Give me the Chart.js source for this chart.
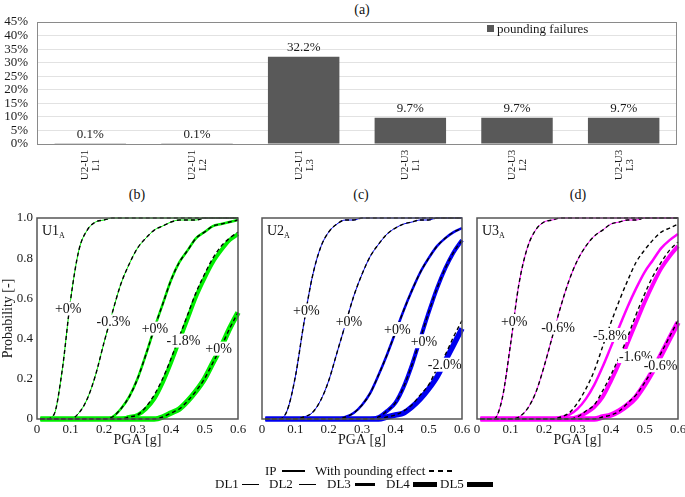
<!DOCTYPE html>
<html><head><meta charset="utf-8">
<script src="https://cdn.jsdelivr.net/npm/chart.js@4/dist/chart.umd.min.js"></script>
<style>
html,body{margin:0;padding:0;background:#fff;width:685px;height:497px;overflow:hidden;font-family:'Liberation Serif','Times New Roman',serif;color:#111}
canvas{position:absolute}
.t{position:absolute;font-size:14px;line-height:16px;transform:translateX(-50%);white-space:nowrap}
.lt{position:absolute;font-size:13px;line-height:16px;white-space:nowrap}
.ln{position:absolute;background:#000}
</style></head><body>
<div class="t" style="left:362px;top:2px">(a)</div>
<div class="t" style="left:137px;top:187px">(b)</div>
<div class="t" style="left:361px;top:187px">(c)</div>
<div class="t" style="left:578px;top:187px">(d)</div>

<canvas id="ca" width="685" height="190" style="left:0;top:0"></canvas>
<canvas id="cb" width="250" height="265" style="left:0;top:185px"></canvas>
<canvas id="cc" width="230" height="265" style="left:245px;top:185px"></canvas>
<canvas id="cd" width="217" height="265" style="left:468px;top:185px"></canvas>

<div class="lt" style="left:265px;top:463px">IP</div>
<div class="ln" style="left:282px;top:470px;width:23px;height:1.5px"></div>
<div class="lt" style="left:315px;top:463px">With pounding effect</div>
<div class="ln" style="left:429px;top:470px;width:5px;height:1.5px"></div>
<div class="ln" style="left:438px;top:470px;width:5px;height:1.5px"></div>
<div class="ln" style="left:447px;top:470px;width:5px;height:1.5px"></div>

<div class="lt" style="left:215px;top:476px">DL1</div>
<div class="ln" style="left:242px;top:484px;width:17px;height:1px"></div>
<div class="lt" style="left:269px;top:476px">DL2</div>
<div class="ln" style="left:299px;top:484px;width:17px;height:1px"></div>
<div class="lt" style="left:327px;top:476px">DL3</div>
<div class="ln" style="left:355px;top:483px;width:20px;height:3px"></div>
<div class="lt" style="left:386px;top:476px">DL4</div>
<div class="ln" style="left:413px;top:482px;width:24px;height:5px"></div>
<div class="lt" style="left:440px;top:476px">DL5</div>
<div class="ln" style="left:467px;top:482px;width:26px;height:5px"></div>

<script>
Chart.defaults.font.family = "'Liberation Serif', 'Times New Roman', serif";
Chart.defaults.color = '#1a1a1a';
Chart.defaults.animation = false;

// ---------- (a) pounding failures ----------
const categories = [['U2-U1','L1'],['U2-U1','L2'],['U2-U1','L3'],['U2-U3','L1'],['U2-U3','L2'],['U2-U3','L3']];
const poundingFailures = [0.1, 0.1, 32.2, 9.7, 9.7, 9.7];

// ---------- fragility curves: PGA grid ----------
const pga = [0.01,0.025,0.05,0.075,0.1,0.125,0.15,0.175,0.2,0.225,0.25,0.275,0.3,0.325,0.35,0.375,0.4,0.425,0.45,0.475,0.5,0.525,0.55,0.575,0.6];

// U1A (b)
const u1_DL1 = [0,0,0.02,0.24,0.59,0.84,0.94,0.98,0.99,1,1,1,1,1,1,1,1,1,1,1,1,1,1,1,1];
const u1_DL2 = [0,0,0,0,0,0.03,0.10,0.22,0.38,0.53,0.67,0.77,0.85,0.90,0.94,0.96,0.98,0.99,0.99,0.99,1,1,1,1,1];
const u1_DL3 = [0,0,0,0,0,0,0,0,0,0.01,0.05,0.11,0.20,0.32,0.45,0.57,0.69,0.78,0.84,0.90,0.93,0.96,0.97,0.98,0.99];
const u1_DL4 = [0,0,0,0,0,0,0,0,0,0,0,0.01,0.02,0.05,0.10,0.18,0.28,0.39,0.50,0.61,0.70,0.78,0.84,0.89,0.92];
const u1_DL5 = [0,0,0,0,0,0,0,0,0,0,0,0,0,0,0,0.01,0.03,0.05,0.09,0.14,0.20,0.28,0.36,0.45,0.53];
const u1_DL2_pound = u1_DL2;
const u1_DL4_pound = [0,0,0,0,0,0,0,0,0,0,0,0.01,0.02,0.06,0.12,0.20,0.30,0.41,0.52,0.63,0.72,0.80,0.86,0.90,0.93];

// U2A (c)
const u2_DL1 = [0,0,0,0.04,0.21,0.47,0.70,0.85,0.93,0.97,0.99,0.99,1,1,1,1,1,1,1,1,1,1,1,1,1];
const u2_DL2 = [0,0,0,0,0,0.01,0.03,0.09,0.19,0.33,0.47,0.61,0.72,0.81,0.87,0.92,0.95,0.97,0.98,0.99,0.99,1,1,1,1];
const u2_DL3 = [0,0,0,0,0,0,0,0,0,0,0.01,0.03,0.07,0.13,0.22,0.32,0.43,0.54,0.64,0.73,0.80,0.86,0.90,0.93,0.95];
const u2_DL4 = [0,0,0,0,0,0,0,0,0,0,0,0,0,0,0.01,0.04,0.08,0.16,0.27,0.40,0.53,0.65,0.75,0.83,0.89];
const u2_DL5 = [0,0,0,0,0,0,0,0,0,0,0,0,0,0,0,0.01,0.02,0.03,0.06,0.10,0.15,0.21,0.29,0.37,0.45];
const u2_DL5_pound = [0,0,0,0,0,0,0,0,0,0,0,0,0,0,0,0.01,0.02,0.04,0.07,0.12,0.17,0.25,0.32,0.41,0.49];

// U3A (d)
const u3_DL1 = [0,0,0,0.10,0.37,0.67,0.85,0.94,0.98,0.99,1,1,1,1,1,1,1,1,1,1,1,1,1,1,1];
const u3_DL2 = [0,0,0,0,0,0.01,0.05,0.13,0.26,0.41,0.56,0.69,0.79,0.86,0.91,0.94,0.97,0.98,0.99,0.99,1,1,1,1,1];
const u3_DL3 = [0,0,0,0,0,0,0,0,0,0,0.01,0.02,0.05,0.10,0.17,0.26,0.36,0.46,0.56,0.65,0.73,0.79,0.85,0.89,0.92];
const u3_DL4 = [0,0,0,0,0,0,0,0,0,0,0,0,0.01,0.03,0.06,0.11,0.19,0.28,0.38,0.48,0.58,0.67,0.75,0.81,0.86];
const u3_DL5 = [0,0,0,0,0,0,0,0,0,0,0,0,0,0,0,0.01,0.02,0.04,0.07,0.11,0.17,0.24,0.32,0.40,0.48];
const u3_DL2_pound = u3_DL2;
const u3_DL3_pound = [0,0,0,0,0,0,0,0,0,0,0.01,0.03,0.08,0.15,0.24,0.36,0.48,0.59,0.69,0.78,0.84,0.89,0.93,0.95,0.97];
const u3_DL4_pound = [0,0,0,0,0,0,0,0,0,0,0,0,0.01,0.04,0.07,0.14,0.22,0.31,0.41,0.52,0.62,0.71,0.78,0.84,0.88];
const u3_DL5_pound = [0,0,0,0,0,0,0,0,0,0,0,0,0,0,0,0.01,0.02,0.04,0.08,0.12,0.18,0.25,0.33,0.41,0.49];

// change-in-probability annotations
const notesU1 = [['+0%',0.093,0.55],['-0.3%',0.228,0.485],['+0%',0.352,0.45],['-1.8%',0.437,0.39],['+0%',0.542,0.35]];
const notesU2 = [['+0%',0.133,0.54],['+0%',0.261,0.487],['+0%',0.406,0.448],['+0%',0.486,0.387],['-2.0%',0.548,0.27]];
const notesU3 = [['+0%',0.111,0.488],['-0.6%',0.242,0.455],['-5.8%',0.397,0.418],['-1.6%',0.474,0.313],['-0.6%',0.548,0.267]];

// ---------- bar chart ----------
const barPlugin = {
  id: 'barDeco',
  afterDatasetsDraw(chart) {
    const ctx = chart.ctx, a = chart.chartArea, xs = chart.scales.x;
    ctx.save();
    ctx.strokeStyle = '#8a8a8a'; ctx.lineWidth = 1;
    ctx.strokeRect(a.left + 0.5, a.top + 0.5, a.right - a.left - 1, a.bottom - a.top);
    ctx.fillStyle = '#1a1a1a';
    ctx.font = "13px 'Liberation Serif'";
    ctx.textAlign = 'center'; ctx.textBaseline = 'alphabetic';
    chart.getDatasetMeta(0).data.forEach((bar, i) => {
      ctx.fillText(poundingFailures[i].toFixed(1) + '%', bar.x, bar.y - 6);
    });
    ctx.font = "11px 'Liberation Serif'";
    ctx.textBaseline = 'middle';
    categories.forEach((lab, i) => {
      const x = xs.getPixelForValue(i);
      ctx.save();
      ctx.translate(x, 165);
      ctx.rotate(-Math.PI / 2);
      ctx.fillText(lab[0], 0, -5);
      ctx.fillText(lab[1], 0, 6);
      ctx.restore();
    });
    ctx.fillStyle = '#595959';
    ctx.fillRect(487, 25, 7, 7);
    ctx.fillStyle = '#1a1a1a';
    ctx.font = "13px 'Liberation Serif'";
    ctx.textAlign = 'left'; ctx.textBaseline = 'alphabetic';
    ctx.fillText(chart.data.datasets[0].label, 497, 33);
    ctx.restore();
  }
};

new Chart(document.getElementById('ca'), {
  type: 'bar',
  data: { labels: categories, datasets: [{ label: 'pounding failures', data: poundingFailures, backgroundColor: '#595959', barPercentage: 0.67, categoryPercentage: 1 }] },
  options: {
    responsive: false,
    layout: { padding: { left: 0, top: 22, right: 8, bottom: 0 } },
    plugins: { legend: { display: false }, tooltip: { enabled: false } },
    scales: {
      x: { ticks: { display: false }, grid: { display: false, drawTicks: false }, border: { display: false },
           afterFit(s) { s.height = 46; s.paddingLeft = 0; s.paddingRight = 0; } },
      y: { min: 0, max: 45, ticks: { stepSize: 5, autoSkip: false, callback: v => v + '%', padding: 9, font: { size: 13 }, color: '#1a1a1a' },
           grid: { color: '#e2e2e2', drawTicks: false }, border: { display: false },
           afterFit(s) { s.width = 37; s.paddingTop = 0; s.paddingBottom = 0; } }
    }
  },
  plugins: [barPlugin]
});

// ---------- fragility panels ----------
const lineWidths = [1, 1, 2.5, 4, 5.5];
function pts(arr) { return pga.map((x, i) => ({ x: x, y: arr[i] })); }

function panel(id, color, ip, pound, notes, unitMain, yWidth, padRight, showY) {
  const ds = [];
  ip.forEach((a, i) => ds.push({ data: pts(a), borderColor: color, borderWidth: lineWidths[i], pointRadius: 0,
    cubicInterpolationMode: 'monotone', order: 2, clip: 6 }));
  pound.forEach((a, i) => ds.push({ data: pts(a), borderColor: '#000', borderWidth: 1.4, borderDash: [4, 3], pointRadius: 0,
    cubicInterpolationMode: 'monotone', order: 1, clip: 6 }));
  const deco = {
    id: 'deco' + id,
    afterDatasetsDraw(chart) {
      const ctx = chart.ctx, a = chart.chartArea, xs = chart.scales.x, ys = chart.scales.y;
      ctx.save();
      ctx.font = "14px 'Liberation Serif'";
      ctx.textAlign = 'center'; ctx.textBaseline = 'middle';
      notes.forEach(n => {
        const px = xs.getPixelForValue(n[1]), py = ys.getPixelForValue(n[2]);
        const w = ctx.measureText(n[0]).width + 2;
        ctx.fillStyle = '#fff';
        ctx.fillRect(px - w / 2, py - 7, w, 14);
        ctx.fillStyle = '#111';
        ctx.fillText(n[0], px, py + 1);
      });
      ctx.strokeStyle = '#555'; ctx.lineWidth = 1.5;
      ctx.strokeRect(a.left, a.top, a.right - a.left, a.bottom - a.top);
      ctx.textAlign = 'left'; ctx.textBaseline = 'alphabetic';
      ctx.font = "14px 'Liberation Serif'";
      ctx.fillText(unitMain, a.left + 5, a.top + 17);
      const w = ctx.measureText(unitMain).width;
      ctx.font = "8px 'Liberation Serif'";
      ctx.fillText('A', a.left + 5 + w, a.top + 20);
      ctx.restore();
    }
  };
  return new Chart(document.getElementById(id), {
    type: 'line',
    data: { datasets: ds },
    options: {
      responsive: false,
      layout: { padding: { left: 0, top: 33, right: padRight, bottom: 0 } },
      plugins: { legend: { display: false }, tooltip: { enabled: false } },
      scales: {
        x: { type: 'linear', min: 0, max: 0.6,
             ticks: { stepSize: 0.1, padding: 3, font: { size: 13 }, color: '#1a1a1a' },
             grid: { display: false, drawTicks: false }, border: { display: false },
             title: { display: true, text: 'PGA [g]', font: { size: 14 }, padding: { top: 0, bottom: 1 }, color: '#1a1a1a' },
             afterFit(s) { s.height = 31; s.paddingLeft = 0; s.paddingRight = 0; } },
        y: { min: 0, max: 1,
             ticks: { display: showY, stepSize: 0.2, padding: 4, font: { size: 13 }, color: '#1a1a1a' },
             grid: { display: false, drawTicks: false }, border: { display: false },
             title: { display: showY, text: 'Probability [-]', font: { size: 14 }, padding: 0, color: '#1a1a1a' },
             afterFit(s) { s.width = yWidth; s.paddingTop = 0; s.paddingBottom = 0; } }
      }
    },
    plugins: [deco]
  });
}

panel('cb', '#00ee00',
  [u1_DL1, u1_DL2, u1_DL3, u1_DL4, u1_DL5],
  [u1_DL1, u1_DL2_pound, u1_DL3, u1_DL4_pound, u1_DL5],
  notesU1, 'U1', 37, 12, true);
panel('cc', '#0000f0',
  [u2_DL1, u2_DL2, u2_DL3, u2_DL4, u2_DL5],
  [u2_DL1, u2_DL2, u2_DL3, u2_DL4, u2_DL5_pound],
  notesU2, 'U2', 17, 13, false);
panel('cd', '#ff00ff',
  [u3_DL1, u3_DL2, u3_DL3, u3_DL4, u3_DL5],
  [u3_DL1, u3_DL2_pound, u3_DL3_pound, u3_DL4_pound, u3_DL5_pound],
  notesU3, 'U3', 9, 7, false);
</script>
</body></html>
